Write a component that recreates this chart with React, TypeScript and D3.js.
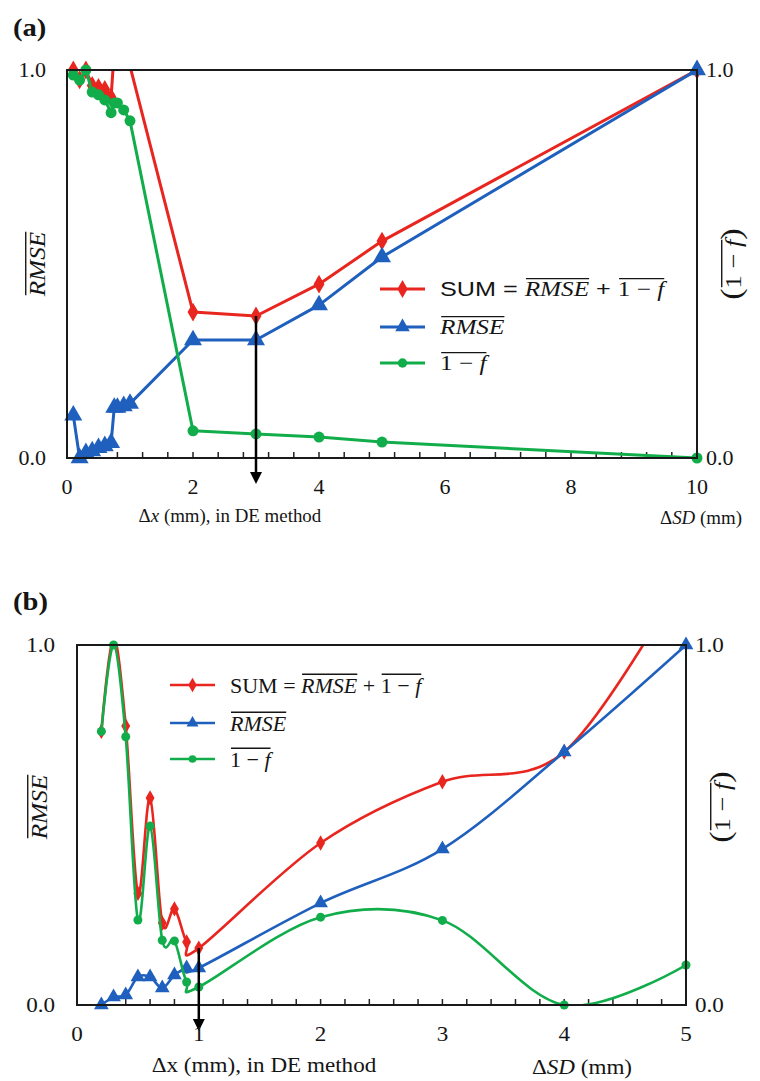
import React, { useEffect, useRef } from "react";
import * as d3 from "d3";

// ---------- Panel (a) data ----------
const xA = [0.1, 0.2, 0.3, 0.4, 0.5, 0.6, 0.7, 0.75, 0.8, 0.9, 1, 2, 3, 4, 5, 10];
const sumA = [1.0, 0.975, 1.0, 0.96, 0.955, 0.95, 0.93, 1.05, 1.05, 1.03, 1.01, 0.376, 0.366, 0.448, 0.559, 1.0];
const rmseA = [0.11, 0.0, 0.013, 0.018, 0.026, 0.031, 0.039, 0.13, 0.13, 0.134, 0.14, 0.304, 0.304, 0.394, 0.518, 1.0];
const oneMinusFA = [0.987, 0.974, 1.0, 0.943, 0.936, 0.923, 0.89, 0.915, 0.915, 0.897, 0.869, 0.07, 0.062, 0.054, 0.041, 0.0];
const xTickLabelsA = [0, 2, 4, 6, 8, 10];
const optimumA = 3;

// ---------- Panel (b) data ----------
const xB = [0.2, 0.3, 0.4, 0.5, 0.6, 0.7, 0.8, 0.9, 1, 2, 3, 4, 5];
const sumB = [0.76, 1.02, 0.775, 0.31, 0.575, 0.228, 0.267, 0.175, 0.158, 0.45, 0.62, 0.703, 1.2];
const rmseB = [0.0, 0.022, 0.028, 0.078, 0.078, 0.047, 0.083, 0.103, 0.103, 0.283, 0.433, 0.703, 1.0];
const oneMinusFB = [0.76, 1.0, 0.745, 0.236, 0.497, 0.18, 0.178, 0.064, 0.05, 0.244, 0.235, 0.0, 0.111];
const xTickLabelsB = [0, 1, 2, 3, 4, 5];
const optimumB = 1;

const yTickLabels = ["0.0", "1.0"];

const RED = "#e8261f";
const BLUE = "#1f5fbd";
const GREEN = "#12ad4b";
const SERIF = "'Liberation Serif', 'Times New Roman', Times, serif";
const SANS = "'Liberation Sans', Arial, sans-serif";

type Part = { t: string; it?: boolean; fam?: string; ov?: number; size?: number };

function rich(parent: any, x: number, y: number, parts: Part[], size: number, anchor: string, defFam: string, st = 1) {
  const g = parent.append("g");
  let cx = 0;
  const spans: { x0: number; x1: number; ov?: number }[] = [];
  parts.forEach((p) => {
    const t = g
      .append("text")
      .attr("x", cx)
      .attr("y", 0)
      .attr("font-family", p.fam || defFam)
      .attr("font-size", p.size || size)
      .attr("font-style", p.it ? "italic" : "normal")
      .attr("fill", "#151515")
      .attr("xml:space", "preserve")
      .style("white-space", "pre")
      .text(p.t);
    const w = (t.node() as SVGTextElement).getComputedTextLength();
    spans.push({ x0: cx, x1: cx + w, ov: p.ov });
    cx += w;
  });
  const groups = d3.group(spans.filter((s) => s.ov != null), (s) => s.ov);
  groups.forEach((arr) => {
    const x0 = d3.min(arr, (s) => s.x0) as number;
    const x1 = d3.max(arr, (s) => s.x1) as number;
    g.append("line")
      .attr("x1", x0 + 1)
      .attr("x2", x1)
      .attr("y1", -size * 0.84)
      .attr("y2", -size * 0.84)
      .attr("stroke", "#151515")
      .attr("stroke-width", Math.max(1, size * 0.06));
  });
  const W = cx * st;
  const off = anchor === "middle" ? -W / 2 : anchor === "end" ? -W : 0;
  g.attr("transform", `translate(${x + off},${y}) scale(${st},1)`);
  return g;
}

function drawMarker(g: any, kind: string, x: number, y: number, color: string, s: number) {
  if (kind === "circle") {
    g.append("circle").attr("cx", x).attr("cy", y).attr("r", s).attr("fill", color);
  } else {
    const sym = kind === "diamond" ? d3.symbolDiamond : d3.symbolTriangle;
    g.append("path")
      .attr("d", d3.symbol().type(sym).size(s * s * 4.2)())
      .attr("transform", `translate(${x},${y})`)
      .attr("fill", color);
  }
}

type Cfg = {
  id: string;
  label: string;
  x0: number; x1: number; y0: number; y1: number;
  xMax: number; xs: number[]; sum: number[]; rmse: number[]; omf: number[];
  xTickLabels: number[]; minor: number; optimum: number;
  smooth: boolean; fs: number; lw: number; mk: number;
  legendX: number; legendYs: number[]; legendFam: string; legendFs: number; legendSt: number;
  titleY: number; xLabelX: number; sdLabelX: number; xLabelY: number; xItalic: boolean;
  leftLabelX: number; rightLabelX: number; leftTickX: number; labelFs: number; yLabelFs: number;
  yLabelCy: number;
};

function drawPanel(svg: any, c: Cfg) {
  const sx = d3.scaleLinear().domain([0, c.xMax]).range([c.x0, c.x1]);
  const sy = d3.scaleLinear().domain([0, 1]).range([c.y1, c.y0]);
  const g = svg.append("g");

  g.append("defs")
    .append("clipPath")
    .attr("id", "clip" + c.id)
    .append("rect")
    .attr("x", c.x0)
    .attr("y", c.y0)
    .attr("width", c.x1 - c.x0)
    .attr("height", c.y1 - c.y0);

  const ticks = d3.range(0, c.xMax + 1e-9, c.minor);
  g.selectAll(null)
    .data(ticks)
    .enter()
    .append("line")
    .attr("x1", (d: number) => sx(d))
    .attr("x2", (d: number) => sx(d))
    .attr("y1", c.y1)
    .attr("y2", c.y1 - 6)
    .attr("stroke", "#222")
    .attr("stroke-width", 1.5);

  const series = [
    { vals: c.sum, color: RED, mk: "diamond" },
    { vals: c.rmse, color: BLUE, mk: "triangle" },
    { vals: c.omf, color: GREEN, mk: "circle" },
  ];
  const line = d3
    .line<number>()
    .x((_, i) => sx(c.xs[i]))
    .y((d) => sy(d))
    .curve(c.smooth ? d3.curveCardinal.tension(0) : d3.curveLinear);

  series.forEach((s) => {
    g.append("path")
      .attr("d", line(s.vals))
      .attr("fill", "none")
      .attr("stroke", s.color)
      .attr("stroke-width", c.lw)
      .attr("stroke-linejoin", "round")
      .attr("clip-path", `url(#clip${c.id})`);
    const mg = g.append("g");
    s.vals.forEach((v, i) => {
      if (v <= 1.0001 && v >= -0.0001) {
        const sz = s.mk === "circle" ? c.mk : s.mk === "triangle" ? c.mk * 1.05 : c.mk * 0.9;
        drawMarker(mg, s.mk, sx(c.xs[i]), sy(v), s.color, sz);
      }
    });
  });

  g.append("rect")
    .attr("x", c.x0)
    .attr("y", c.y0)
    .attr("width", c.x1 - c.x0)
    .attr("height", c.y1 - c.y0)
    .attr("fill", "none")
    .attr("stroke", "#1a1a1a")
    .attr("stroke-width", 2);

  const oi = c.xs.indexOf(c.optimum);
  const ax = sx(c.optimum);
  const tipY = c.y1 + 26;
  g.append("line")
    .attr("x1", ax)
    .attr("x2", ax)
    .attr("y1", sy(c.sum[oi]))
    .attr("y2", tipY - 10)
    .attr("stroke", "#000")
    .attr("stroke-width", 2.5);
  g.append("path")
    .attr("d", `M${ax - 6},${tipY - 12}L${ax + 6},${tipY - 12}L${ax},${tipY}Z`)
    .attr("fill", "#000");

  c.xTickLabels.forEach((v) => {
    rich(g, sx(v), c.y1 + 36, [{ t: String(v) }], c.fs, "middle", SERIF, 1.1);
  });
  [0, 1].forEach((v, i) => {
    rich(g, c.leftTickX, sy(v) + c.fs * 0.33, [{ t: yTickLabels[i] }], c.fs, "end", SERIF, 1.1);
    rich(g, c.x1 + 9, sy(v) + c.fs * 0.33, [{ t: yTickLabels[i] }], c.fs, "start", SERIF, 1.1);
  });

  const tg = rich(g, 13, c.titleY, [{ t: c.label }], 26, "start", SERIF, 1.1);
  tg.selectAll("text").attr("font-weight", "bold");

  rich(g, c.xLabelX, c.xLabelY, [
    { t: "Δ" },
    { t: "x", it: c.xItalic },
    { t: " (mm), in DE method" },
  ], c.labelFs, "middle", SERIF, 1.05);
  rich(g, c.sdLabelX, c.xLabelY + 2, [{ t: "Δ" }, { t: "SD", it: true }, { t: " (mm)" }], c.labelFs, "middle", SERIF, 1.05);

  const cy = c.yLabelCy;
  const lg = g.append("g").attr("transform", `translate(${c.leftLabelX},${cy}) rotate(-90)`);
  rich(lg, 0, c.yLabelFs * 0.35, [{ t: "RMSE", it: true, ov: 1 }], c.yLabelFs, "middle", SERIF, 1.1);
  const rg = g.append("g").attr("transform", `translate(${c.rightLabelX},${cy}) rotate(-90)`);
  rich(rg, 0, c.yLabelFs * 0.35, [
    { t: "(", size: c.yLabelFs + 7 },
    { t: "1 − ", ov: 1 },
    { t: "f", it: true, ov: 1 },
    { t: ")", size: c.yLabelFs + 7 },
  ], c.yLabelFs, "middle", SERIF, 1.15);

  const entries = [
    {
      color: RED, mk: "diamond",
      parts: [
        { t: "SUM = ", fam: c.legendFam },
        { t: "RMSE", it: true, ov: 1, fam: SERIF },
        { t: " + ", fam: c.legendFam },
        { t: "1 − ", ov: 2, fam: SERIF },
        { t: "f", it: true, ov: 2, fam: SERIF },
      ] as Part[],
    },
    { color: BLUE, mk: "triangle", parts: [{ t: "RMSE", it: true, ov: 1 }] as Part[] },
    { color: GREEN, mk: "circle", parts: [{ t: "1 − ", ov: 1 }, { t: "f", it: true, ov: 1 }] as Part[] },
  ];
  entries.forEach((e, i) => {
    const ly = c.legendYs[i];
    g.append("line")
      .attr("x1", c.legendX)
      .attr("x2", c.legendX + 45)
      .attr("y1", ly)
      .attr("y2", ly)
      .attr("stroke", e.color)
      .attr("stroke-width", c.lw);
    drawMarker(g, e.mk, c.legendX + 22.5, ly, e.color, c.mk * 0.85);
    rich(g, c.legendX + 60, ly + c.legendFs * 0.35, e.parts, c.legendFs, "start", SERIF, c.legendSt);
  });
}

export default function App() {
  const ref = useRef<SVGSVGElement | null>(null);
  useEffect(() => {
    const svg = d3.select(ref.current);
    svg.selectAll("*").remove();
    svg.append("rect").attr("width", 760).attr("height", 1081).attr("fill", "#fff");
    drawPanel(svg, {
      id: "a", label: "(a)",
      x0: 67, x1: 697, y0: 70, y1: 458,
      xMax: 10, xs: xA, sum: sumA, rmse: rmseA, omf: oneMinusFA,
      xTickLabels: xTickLabelsA, minor: 0.4, optimum: optimumA,
      smooth: false, fs: 20, lw: 3, mk: 5.5, labelFs: 18, yLabelFs: 23,
      legendX: 380, legendYs: [289, 327, 363], legendFam: SANS, legendFs: 21, legendSt: 1.2,
      titleY: 36, xLabelX: 230, sdLabelX: 701, xLabelY: 522, xItalic: true,
      leftLabelX: 37, rightLabelX: 733, leftTickX: 46, yLabelCy: 264,
    });
    drawPanel(svg, {
      id: "b", label: "(b)",
      x0: 77, x1: 686, y0: 645, y1: 1005,
      xMax: 5, xs: xB, sum: sumB, rmse: rmseB, omf: oneMinusFB,
      xTickLabels: xTickLabelsB, minor: 0.2, optimum: optimumB,
      smooth: true, fs: 21, lw: 2.6, mk: 4.5, labelFs: 22, yLabelFs: 23,
      legendX: 170, legendYs: [685, 723, 759], legendFam: SERIF, legendFs: 22, legendSt: 1.0,
      titleY: 610, xLabelX: 264, sdLabelX: 582, xLabelY: 1072, xItalic: false,
      leftLabelX: 39, rightLabelX: 722, leftTickX: 55, yLabelCy: 807,
    });
  }, []);
  return (
    <svg
      ref={ref}
      width={760}
      height={1081}
      style={{ position: "absolute", left: 0, top: 0, display: "block" }}
    />
  );
}
